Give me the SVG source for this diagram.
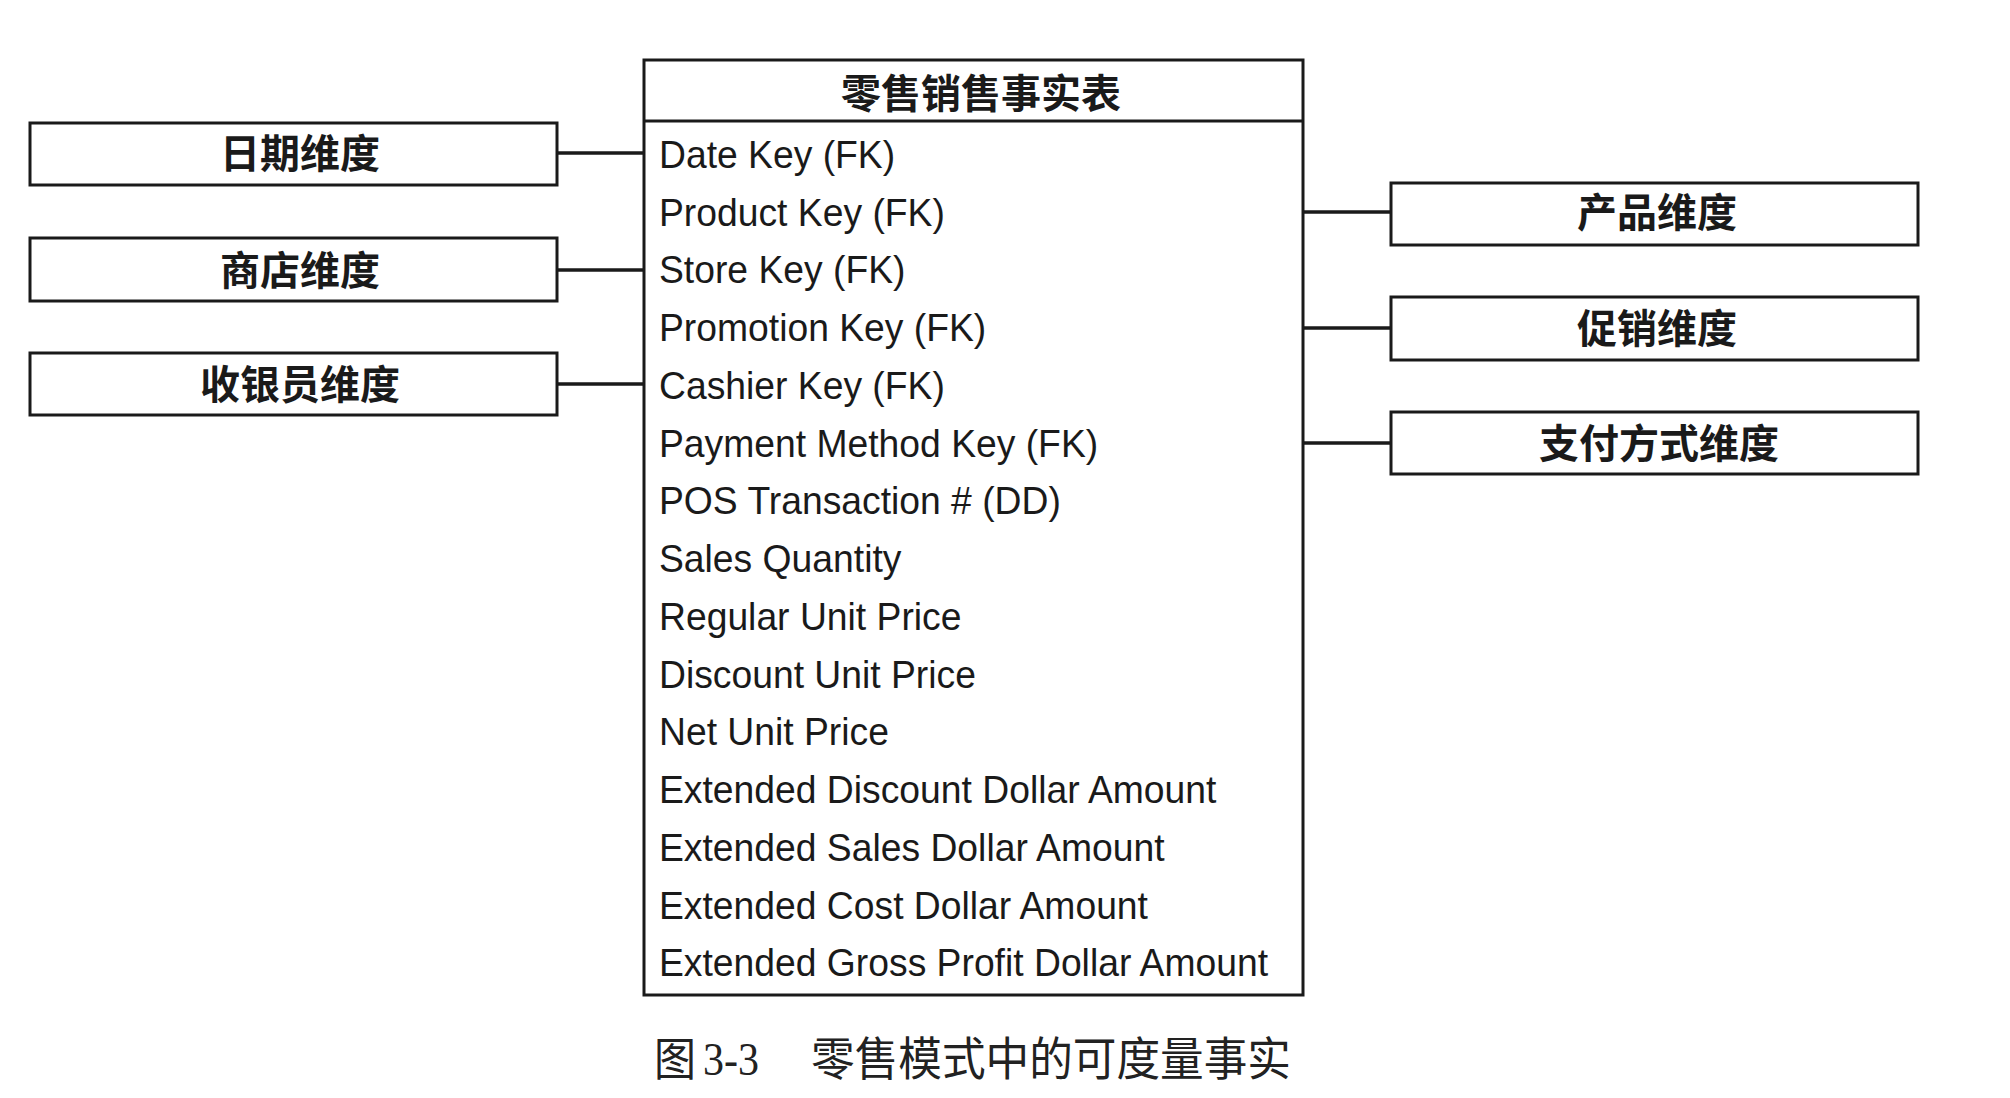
<svg xmlns="http://www.w3.org/2000/svg" width="2010" height="1098" viewBox="0 0 2010 1098">
<style>
.box{fill:#fff;stroke:#1a1a1a;stroke-width:3}
.conn{stroke:#1a1a1a;stroke-width:3.5;fill:none}
.cjk{font-family:"Noto Sans CJK SC","Noto Sans CJK TC",sans-serif;font-weight:bold;font-size:40px;fill:#1a1a1a;text-anchor:middle}
.row{font-family:"Liberation Sans",Arial,sans-serif;font-size:39px;fill:#1a1a1a}
.cap{font-family:"Liberation Serif","Noto Sans CJK SC",serif;font-size:46px;fill:#222}
</style>
<rect width="2010" height="1098" fill="#fff"/>
<g id="connectors">
<line class="conn" x1="557" y1="153" x2="644" y2="153"/>
<line class="conn" x1="557" y1="270" x2="644" y2="270"/>
<line class="conn" x1="557" y1="384" x2="644" y2="384"/>
<line class="conn" x1="1303" y1="212" x2="1391" y2="212"/>
<line class="conn" x1="1303" y1="328" x2="1391" y2="328"/>
<line class="conn" x1="1303" y1="443" x2="1391" y2="443"/>
</g>
<g id="fact-table">
<rect class="box" x="644" y="60" width="659" height="935"/>
<line x1="644" y1="121" x2="1303" y2="121" stroke="#1a1a1a" stroke-width="3"/>
<text class="cjk" x="981" y="108">零售销售事实表</text>
<g transform="translate(659,0) scale(0.956,1)">
<text class="row" x="0" y="168">Date Key (FK)</text>
<text class="row" x="0" y="225.75">Product Key (FK)</text>
<text class="row" x="0" y="283.5">Store Key (FK)</text>
<text class="row" x="0" y="341.25">Promotion Key (FK)</text>
<text class="row" x="0" y="399">Cashier Key (FK)</text>
<text class="row" x="0" y="456.75">Payment Method Key (FK)</text>
<text class="row" x="0" y="514.5">POS Transaction # (DD)</text>
<text class="row" x="0" y="572.25">Sales Quantity</text>
<text class="row" x="0" y="630">Regular Unit Price</text>
<text class="row" x="0" y="687.75">Discount Unit Price</text>
<text class="row" x="0" y="745.5">Net Unit Price</text>
<text class="row" x="0" y="803.25">Extended Discount Dollar Amount</text>
<text class="row" x="0" y="861">Extended Sales Dollar Amount</text>
<text class="row" x="0" y="918.75">Extended Cost Dollar Amount</text>
<text class="row" x="0" y="976.5">Extended Gross Profit Dollar Amount</text>
</g>
</g>
<g id="date-dim">
<rect class="box" x="30" y="123" width="527" height="62"/>
<text class="cjk" x="300" y="168">日期维度</text>
</g>
<g id="store-dim">
<rect class="box" x="30" y="238" width="527" height="63"/>
<text class="cjk" x="300" y="285">商店维度</text>
</g>
<g id="cashier-dim">
<rect class="box" x="30" y="353" width="527" height="62"/>
<text class="cjk" x="300" y="399">收银员维度</text>
</g>
<g id="product-dim">
<rect class="box" x="1391" y="183" width="527" height="62"/>
<text class="cjk" x="1657" y="227">产品维度</text>
</g>
<g id="promotion-dim">
<rect class="box" x="1391" y="297" width="527" height="63"/>
<text class="cjk" x="1657" y="343">促销维度</text>
</g>
<g id="payment-dim">
<rect class="box" x="1391" y="412" width="527" height="62"/>
<text class="cjk" x="1659" y="458">支付方式维度</text>
</g>
<g id="caption">
<text class="cap" x="654" y="1075" textLength="42" lengthAdjust="spacingAndGlyphs">图</text>
<text class="cap" x="703" y="1075" textLength="56" lengthAdjust="spacingAndGlyphs">3-3</text>
<text class="cap" x="811" y="1075" textLength="480" lengthAdjust="spacingAndGlyphs">零售模式中的可度量事实</text>
</g>
</svg>
